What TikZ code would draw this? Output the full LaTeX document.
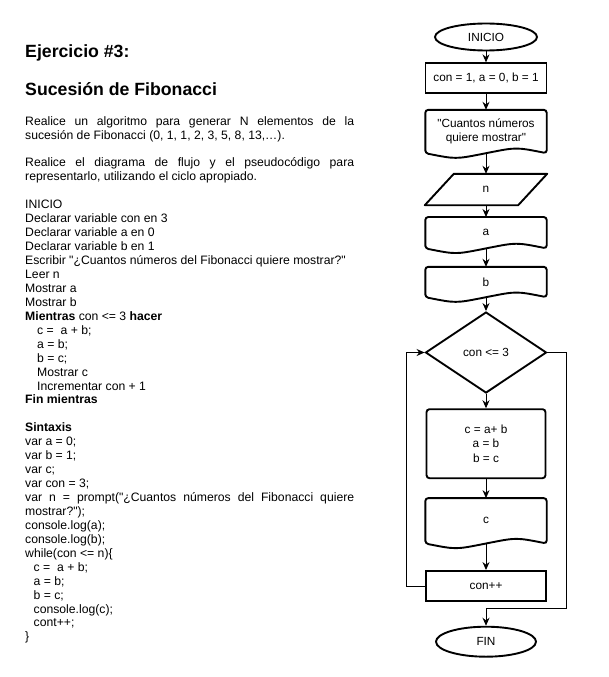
\documentclass[tikz,border=0pt]{standalone}
\usepackage{fontspec}
\setmainfont{Liberation Sans}[Ligatures=TeXOff]
\usepackage{tikz}
\usetikzlibrary{shapes.geometric,arrows.meta,calc}
\definecolor{ink}{HTML}{000000}
\tikzset{
  shp/.style={draw=ink, line width=1.9pt},
  term/.style={shp, ellipse, minimum width=102, minimum height=27, inner sep=0pt},
  proc/.style={shp, rectangle, minimum width=121, minimum height=30, inner sep=0pt},
  cond/.style={shp, diamond, minimum width=121, minimum height=81, inner sep=0pt},
  doc/.style={rectangle, minimum width=121, inner sep=0pt, align=center},
  io/.style={rectangle, minimum width=122, minimum height=31, inner sep=0pt},
  flow/.style={draw=ink, line width=1pt, -{Stealth[length=8pt,width=7pt]}},
  fc/.style={font=\fontsize{11.8}{14.5}\selectfont},
  ttl/.style={anchor=base west, inner sep=0pt, font=\fontsize{17.7}{21}\selectfont\bfseries},
  body/.style={anchor=north west, inner sep=0pt, text width=329pt, align=justify,
    font=\fontsize{12.2}{13.94}\selectfont}
}
% document: flat top, wavy bottom
\newcommand{\docshape}[1]{%
  \draw[shp, rounded corners=3pt] (#1.south west) -- (#1.north west) -- (#1.north east) -- (#1.south east)
    .. controls ($(#1.south east)!0.5!(#1.south)+(0,-6)$) .. (#1.south)
    .. controls ($(#1.south west)!0.5!(#1.south)+(0,6)$) .. (#1.south west) -- cycle;}
% data: slanted sides
\newcommand{\ioshape}[1]{%
  \draw[shp, line join=round] (#1.south west) -- ($(#1.north west)+(29,0)$) -- (#1.north east)
    -- ($(#1.south east)+(-29,0)$) -- cycle;}

\begin{document}
\begin{tikzpicture}[x=1pt, y=-1pt]
\path[use as bounding box, fill=white] (0,0) rectangle (609,677);

% left column
\node[ttl] (ej) at (25,57.5) {Ejercicio \#3:};
\node[ttl] (suc) at (25,95) {Sucesión de Fibonacci};
\node[body] (txt) at (25,115.2) {\parindent=0pt\hyphenpenalty=10000\tolerance=10000%
\strut Realice un algoritmo para generar N elementos de la\linebreak
sucesión de Fibonacci (0, 1, 1, 2, 3, 5, 8, 13,…).\\[13.94pt]
Realice el diagrama de flujo y el pseudocódigo para\linebreak
representarlo, utilizando el ciclo apropiado.\\[13.94pt]
INICIO\\
Declarar variable con en 3\\
Declarar variable a en 0\\
Declarar variable b en 1\\
Escribir "¿Cuantos números del Fibonacci quiere mostrar?"\\
Leer n\\
Mostrar a\\
Mostrar b\\
\textbf{Mientras} con <= 3 \textbf{hacer}\\
\hspace*{12pt}c = \ a + b;\\
\hspace*{12pt}a = b;\\
\hspace*{12pt}b = c;\\
\hspace*{12pt}Mostrar c\\
\hspace*{12pt}Incrementar con + 1\\
\textbf{Fin mientras}\\[13.94pt]
\textbf{Sintaxis}\\
var a = 0;\\
var b = 1;\\
var c;\\
var con = 3;\\
var n = prompt("¿Cuantos números del Fibonacci quiere\linebreak
mostrar?");\\
console.log(a);\\
console.log(b);\\
while(con <= n)\{\\
\hspace*{8.5pt}c = \ a + b;\\
\hspace*{8.5pt}a = b;\\
\hspace*{8.5pt}b = c;\\
\hspace*{8.5pt}console.log(c);\\
\hspace*{8.5pt}cont++;\\
\}};

% flowchart
\node[term, fc] (inicio) at (486,37) {INICIO};
\node[proc, fc] (init) at (486,78.3) {con = 1, a = 0, b = 1};
\node[doc, fc, minimum height=43] (msg) at (486,131.5) {"Cuantos números\\quiere mostrar"};
\docshape{msg}
\node[io, fc] (n) at (486,189.5) {n};
\ioshape{n}
\node[doc, fc, minimum height=31] (a) at (486,232.7) {a};
\docshape{a}
\node[doc, fc, minimum height=30] (b) at (486,282) {b};
\docshape{b}
\node[cond, fc] (cmp) at (486,352.5) {con <= 3};
\node[proc, fc, rounded corners=3pt, minimum height=69, minimum width=119, align=center] (calc) at (486,443.7) {c = a+ b\\a = b\\b = c};
\node[doc, fc, minimum height=45] (outc) at (486,520.8) {c};
\docshape{outc}
\node[proc, fc, minimum width=120] (inc) at (486,586) {con++};
\node[term, fc, minimum width=100, minimum height=30] (fin) at (486,641.7) {FIN};
\coordinate (salida) at (566.7,608.3);

\draw[flow] (inicio) -- (init);
\draw[flow] (init) -- (msg);
\draw[flow] (msg) -- (n);
\draw[flow] (n) -- (a);
\draw[flow] (a) -- (b);
\draw[flow] (b) -- (cmp);
\draw[flow] (cmp) -- (calc);
\draw[flow] (calc) -- (outc);
\draw[flow] (outc) -- (inc);
\draw[flow] (inc.west) -- ++(-19,0) |- (cmp.west);
\draw[flow] (cmp.east) -| (salida) -| (fin.north);
\end{tikzpicture}
\end{document}
